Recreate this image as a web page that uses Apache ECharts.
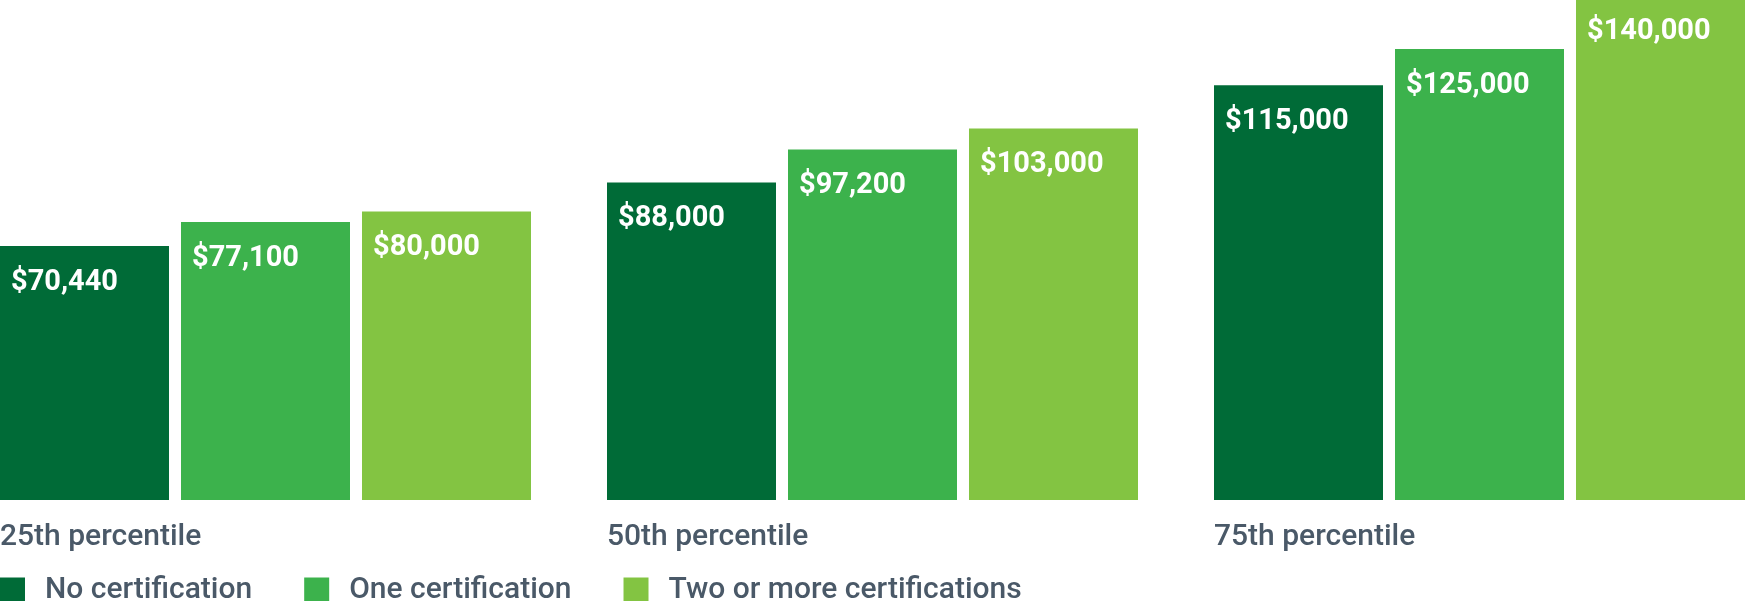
<!DOCTYPE html>
<html>
<head>
<meta charset="utf-8">
<script src="https://cdn.jsdelivr.net/npm/echarts@6/dist/echarts.min.js"></script>
<style>
  html, body { margin: 0; padding: 0; background: #ffffff; overflow: hidden; }
  #wrap { width: 1745px; height: 601px; overflow: hidden; position: relative; }
  /* the plot is larger than the page so the outer bars run off its edges */
  #chart { width: 1821px; height: 606px; position: absolute; left: -38px; top: -5px; }
</style>
</head>
<body>
<div id="wrap"><div id="chart"></div></div>
<script>
// Salary percentiles by number of certifications
const categories = ['25th percentile', '50th percentile', '75th percentile'];
const seriesNames = ['No certification', 'One certification', 'Two or more certifications'];
const noCert = [70440, 88000, 115000];
const oneCert = [77100, 97200, 125000];
const twoPlusCert = [80000, 103000, 140000];

const colors = ['#006b37', '#3cb24c', '#83c442'];
const textGray = '#4a5968';
const fontFamily = 'Roboto, "Noto Sans", sans-serif';

const fmtMoney = v => '$' + v.toLocaleString('en-US');

function barSeries(name, data, color) {
  return {
    name: name,
    type: 'bar',
    data: data,
    barWidth: 169,
    barGap: '7.1%',
    itemStyle: { color: color },
    label: {
      show: true,
      position: [11, 22],
      color: '#ffffff',
      fontFamily: fontFamily,
      fontWeight: 'bold',
      fontSize: 29,
      formatter: p => fmtMoney(p.value)
    },
    emphasis: { disabled: true }
  };
}

const chart = echarts.init(document.getElementById('chart'), null, { renderer: 'canvas' });
chart.setOption({
  animation: false,
  backgroundColor: '#ffffff',
  grid: { left: 0, right: 0, top: 0, bottom: 101, containLabel: false },
  legend: {
    left: 38,
    top: 580,
    padding: 0,
    itemWidth: 25,
    itemHeight: 25,
    itemGap: 52,
    icon: 'rect',
    selectedMode: false,
    data: seriesNames,
    textStyle: {
      color: textGray,
      fontFamily: fontFamily,
      fontWeight: 500,
      fontSize: 30,
      padding: [0, 0, 0, 15]
    }
  },
  xAxis: {
    type: 'category',
    data: categories,
    axisLine: { show: false },
    axisTick: { show: false },
    axisLabel: {
      margin: 22,
      align: 'center',
      formatter: v => '{a|' + v + '}',
      rich: {
        a: {
          width: 531,
          align: 'left',
          color: textGray,
          fontFamily: fontFamily,
          fontWeight: 500,
          fontSize: 30
        }
      }
    }
  },
  yAxis: {
    type: 'value',
    min: 0,
    max: 140000,
    show: false,
    splitLine: { show: false }
  },
  series: [
    barSeries(seriesNames[0], noCert, colors[0]),
    barSeries(seriesNames[1], oneCert, colors[1]),
    barSeries(seriesNames[2], twoPlusCert, colors[2])
  ]
});
</script>
</body>
</html>
